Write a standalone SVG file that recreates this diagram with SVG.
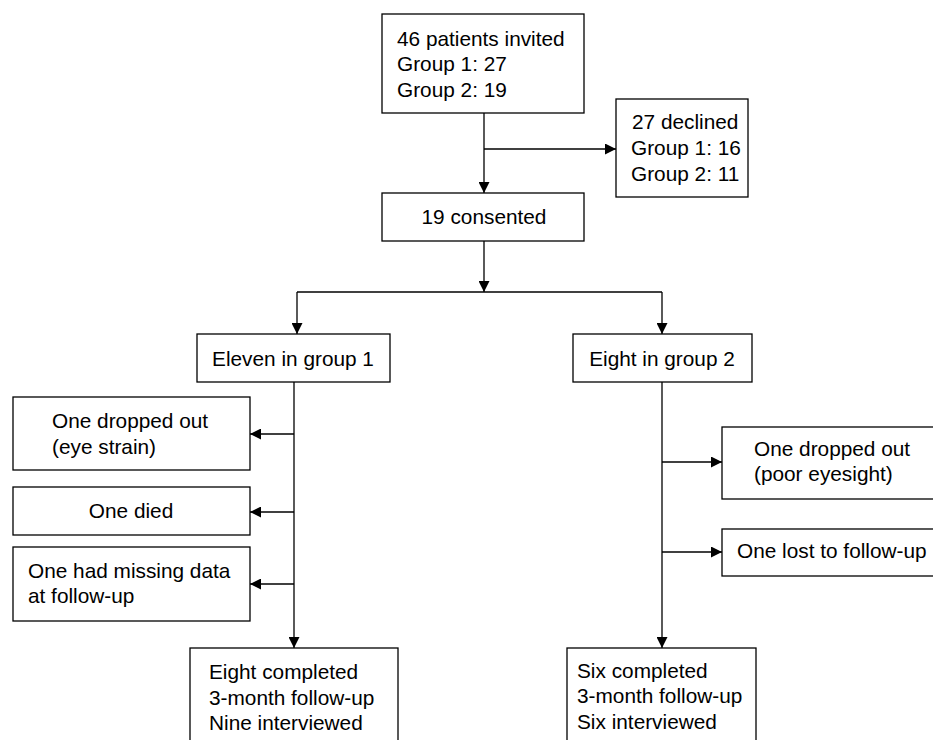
<svg xmlns="http://www.w3.org/2000/svg" width="933" height="740" viewBox="0 0 933 740">
<style>
.box{fill:#fff;stroke:#000;stroke-width:1.3}
.t{font-family:"Liberation Sans",Arial,sans-serif;font-size:20.8px;fill:#000}
.c{text-anchor:middle}
.ln{stroke:#000;stroke-width:1.3;fill:none}
.ar{marker-end:url(#ah)}
</style>
<defs>
<marker id="ah" markerUnits="userSpaceOnUse" markerWidth="12" markerHeight="11" refX="11" refY="5.5" orient="auto">
<path d="M0,0 L11,5.5 L0,11 z" fill="#000"/>
</marker>
</defs>
<rect width="933" height="740" fill="#fff"/>
<g id="connectors">
<line class="ln ar" x1="484" y1="113" x2="484" y2="193"/>
<line class="ln ar" x1="484" y1="149" x2="616" y2="149"/>
<line class="ln ar" x1="484" y1="241" x2="484" y2="292"/>
<line class="ln" x1="297" y1="292" x2="662" y2="292"/>
<line class="ln ar" x1="297" y1="292" x2="297" y2="334"/>
<line class="ln ar" x1="662" y1="292" x2="662" y2="334"/>
<line class="ln ar" x1="294" y1="382" x2="294" y2="648"/>
<line class="ln ar" x1="294" y1="434" x2="250" y2="434"/>
<line class="ln ar" x1="294" y1="512" x2="250" y2="512"/>
<line class="ln ar" x1="294" y1="584" x2="250" y2="584"/>
<line class="ln ar" x1="662" y1="382" x2="662" y2="648"/>
<line class="ln ar" x1="662" y1="462" x2="722" y2="462"/>
<line class="ln ar" x1="662" y1="552" x2="722" y2="552"/>
</g>
<g id="invited">
<rect class="box" x="382" y="14" width="202" height="99"/>
<text class="t" x="397" y="46">46 patients invited</text>
<text class="t" x="397" y="71">Group 1: 27</text>
<text class="t" x="397" y="97">Group 2: 19</text>
</g>
<g id="declined">
<rect class="box" x="616" y="99" width="132" height="98"/>
<text class="t" x="632" y="129">27 declined</text>
<text class="t" x="631" y="155">Group 1: 16</text>
<text class="t" x="631" y="181">Group 2: 11</text>
</g>
<g id="consented">
<rect class="box" x="382" y="193" width="202" height="48"/>
<text class="t c" x="484" y="224">19 consented</text>
</g>
<g id="group1">
<rect class="box" x="197" y="334" width="193" height="48"/>
<text class="t c" x="293" y="366">Eleven in group 1</text>
</g>
<g id="group2">
<rect class="box" x="573" y="334" width="179" height="48"/>
<text class="t c" x="662" y="366">Eight in group 2</text>
</g>
<g id="g1-dropped">
<rect class="box" x="13" y="397" width="237" height="73"/>
<text class="t" x="52" y="428">One dropped out</text>
<text class="t" x="52" y="454">(eye strain)</text>
</g>
<g id="g1-died">
<rect class="box" x="13" y="487" width="237" height="48"/>
<text class="t c" x="131" y="518">One died</text>
</g>
<g id="g1-missing">
<rect class="box" x="13" y="547" width="237" height="74"/>
<text class="t" x="28" y="578">One had missing data</text>
<text class="t" x="28" y="603">at follow-up</text>
</g>
<g id="g2-dropped">
<rect class="box" x="722" y="427" width="230" height="72"/>
<text class="t" x="754" y="456">One dropped out</text>
<text class="t" x="754" y="481">(poor eyesight)</text>
</g>
<g id="g2-lost">
<rect class="box" x="722" y="529" width="230" height="47"/>
<text class="t" x="737" y="558">One lost to follow-up</text>
</g>
<g id="g1-completed">
<rect class="box" x="190" y="648" width="208" height="110"/>
<text class="t" x="209" y="679">Eight completed</text>
<text class="t" x="209" y="705">3-month follow-up</text>
<text class="t" x="209" y="730">Nine interviewed</text>
</g>
<g id="g2-completed">
<rect class="box" x="567" y="648" width="189" height="110"/>
<text class="t" x="577" y="678">Six completed</text>
<text class="t" x="577" y="703">3-month follow-up</text>
<text class="t" x="577" y="729">Six interviewed</text>
</g>
</svg>
